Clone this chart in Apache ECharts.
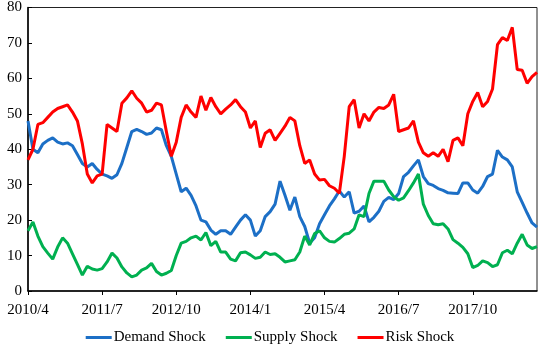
<!DOCTYPE html>
<html>
<head>
<meta charset="utf-8">
<script src="https://cdn.jsdelivr.net/npm/echarts@6/dist/echarts.min.js"></script>
<style>
	html, body { margin: 0; padding: 0; background: #fff; }
	#chart { width: 540px; height: 344px; }
</style>
</head>
<body>
<div id="chart"></div>
<script>
// months counted from 2010/4
var tickLabels = ['2010/4', '2011/7', '2012/10', '2014/1', '2015/4', '2016/7', '2017/10'];

var demandShock = [48, 40, 39, 41.5, 42.5, 43.2, 42, 41.5, 41.8, 41, 38.5, 36, 35, 36, 34.3, 33, 32.5, 31.8, 32.8, 36,
	40.5, 45, 45.6, 45, 44.2, 44.6, 46, 45.5, 41, 38, 33, 28, 29, 27, 24, 20, 19.5, 17.2, 16, 17,
	17, 16, 18, 20, 21.5, 20, 15.5, 17, 21, 22.4, 24.5, 31, 27, 22.8, 26.5, 21, 18.2, 13.5, 15, 19,
	21.5, 24, 26, 28.2, 26.5, 28, 22, 22.5, 24, 19.5, 20.8, 22.5, 25.3, 26.4, 25.8, 27.5, 32.3, 33.5, 35.3, 37,
	32.3, 30.3, 29.8, 28.9, 28.4, 27.7, 27.6, 27.5, 30.5, 30.5, 28.5, 27.6, 29.5, 32.3, 33, 39.7, 37.8, 37, 35, 28,
	25, 22, 19.2, 18];

var supplyShock = [17, 19.5, 15.5, 12.5, 10.7, 9, 12.4, 15, 13.5, 10.5, 7.5, 4.5, 7, 6.2, 5.9, 6.3, 8.2, 10.7, 9.3, 6.8,
	5.1, 4, 4.5, 5.9, 6.5, 7.8, 5.5, 4.5, 5, 5.8, 10, 13.5, 14, 15, 15.5, 14.4, 16.5, 12.8, 14, 11,
	11, 9, 8.5, 10.8, 11, 10.2, 9.2, 9.5, 11, 10.3, 10.5, 9.5, 8.2, 8.5, 8.8, 11, 15.5, 13, 16.2, 17,
	15, 14, 13.8, 14.8, 16, 16.3, 17.5, 21.5, 21, 27.5, 31, 31, 31, 28.5, 26.6, 25.6, 26.3, 28.3, 30.5, 33,
	24.5, 21.3, 19, 18.7, 19, 17.5, 14.5, 13.5, 12.3, 10.5, 6.6, 7.2, 8.5, 8, 6.9, 7.4, 10.8, 11.5, 10.5, 13.5,
	16, 13, 12, 12.5];

var riskShock = [37, 40, 47, 47.5, 49, 50.5, 51.5, 52, 52.5, 50.5, 48, 41.5, 33, 30.5, 32.5, 33, 47, 46, 45, 53,
	54.5, 56.5, 54.4, 53, 50.5, 51, 53, 52.5, 45, 38, 42, 49, 52.5, 50.5, 49, 55, 51, 54.6, 52, 50,
	51.3, 52.5, 54, 52, 50.5, 46, 48, 40.5, 44.5, 45.5, 42.5, 44.5, 46.5, 49, 48, 41, 36, 37, 33, 31.3,
	31.5, 29.7, 29, 27.6, 38, 52, 54, 46, 50, 48, 50.5, 51.8, 51.5, 52.5, 55.5, 45, 45.5, 46, 48, 42,
	39, 38, 39, 38, 40, 36.5, 42.5, 43.2, 41, 50, 53.5, 56, 52, 53.5, 57, 69.5, 71.5, 70.7, 74.4, 62.5,
	62.3, 58.6, 60.5, 61.7];

function toPairs(arr) {
	var out = [];
	for (var i = 0; i < arr.length; i++) out.push([i, arr[i]]);
	return out;
}

var myChart = echarts.init(document.getElementById('chart'));
var font = 'Liberation Serif';

var option = {
	animation: false,
	backgroundColor: '#fff',
	textStyle: { fontFamily: font },
	grid: {
		left: 28, right: 3, top: 7, bottom: 53,
		show: true, borderColor: '#222', borderWidth: 1
	},
	legend: {
		top: 325,
		left: 'center',
		itemWidth: 26,
		itemHeight: 3,
		itemGap: 20,
		icon: 'rect',
		textStyle: { fontFamily: font, fontSize: 15, color: '#000', padding: [0, 0, 0, -3] },
		data: ['Demand Shock', 'Supply Shock', 'Risk Shock']
	},
	xAxis: {
		type: 'value',
		min: 0,
		max: demandShock.length - 1,
		interval: 15,
		axisLine: { lineStyle: { color: '#000', width: 1.5 } },
		axisTick: { show: true, inside: false, length: 4, lineStyle: { color: '#000' } },
		splitLine: { show: false },
		axisLabel: {
			color: '#000', fontSize: 15, fontFamily: font, margin: 12,
			showMaxLabel: false,
			formatter: function (v) {
				var k = Math.round(v / 15);
				return (v % 15 === 0 && tickLabels[k]) ? tickLabels[k] : '';
			}
		}
	},
	yAxis: {
		type: 'value',
		min: 0, max: 80, interval: 10,
		axisLine: { show: true, lineStyle: { color: '#000', width: 1.5 } },
		axisTick: { show: true, inside: true, length: 4, lineStyle: { color: '#000' } },
		splitLine: { show: false },
		axisLabel: { color: '#000', fontSize: 15, fontFamily: font, margin: 6 }
	},
	series: [
		{
			name: 'Demand Shock', type: 'line', showSymbol: false,
			color: '#1c6fc6', lineStyle: { width: 3 },
			data: toPairs(demandShock)
		},
		{
			name: 'Supply Shock', type: 'line', showSymbol: false,
			color: '#00b050', lineStyle: { width: 3 },
			data: toPairs(supplyShock)
		},
		{
			name: 'Risk Shock', type: 'line', showSymbol: false,
			color: '#ff0000', lineStyle: { width: 3 },
			data: toPairs(riskShock)
		}
	]
};

myChart.setOption(option);
</script>
</body>
</html>
